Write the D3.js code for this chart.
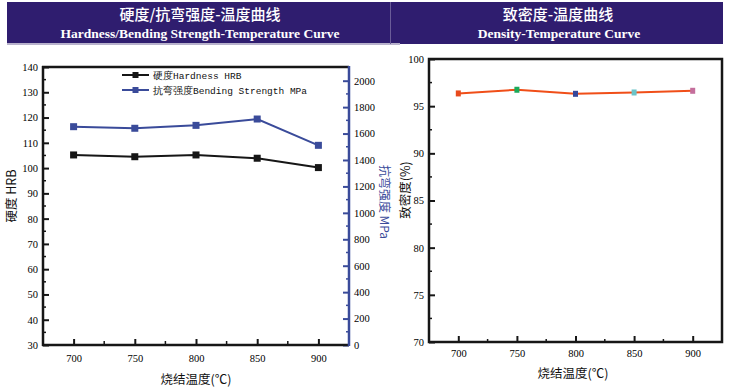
<!DOCTYPE html>
<html><head><meta charset="utf-8">
<script src="https://cdn.jsdelivr.net/npm/d3@7/dist/d3.min.js"></script>
<style>
html,body{margin:0;padding:0;background:#fff;}
svg{display:block;}
.tk text{font-family:"Liberation Serif",serif;font-size:10.5px;}
</style></head>
<body><svg id="c" width="730" height="392"></svg>
<script>
const temps = [700, 750, 800, 850, 900];
const hardness = [105.2, 104.5, 105.2, 103.9, 100.2];
const bending = [1652, 1640, 1662, 1710, 1511];
const density = [96.35, 96.74, 96.31, 96.45, 96.63];
const densityColors = ["#e84a1c", "#1caa5a", "#36479a", "#6cc4c8", "#c46e9c"];
const leftTicks = [30, 40, 50, 60, 70, 80, 90, 100, 110, 120, 130, 140];
const rightTicks = [0, 200, 400, 600, 800, 1000, 1200, 1400, 1600, 1800, 2000];
const densTicks = [70, 75, 80, 85, 90, 95, 100];
const legendLabels = ["硬度Hardness HRB", "抗弯强度Bending Strength MPa"];

const svg = d3.select("#c");
const banner = "#2f1d6f";
const blue = "#3a4b9a";
const black = "#161616";

// banners
svg.append("rect").attr("x", 7).attr("y", 2).attr("width", 716).attr("height", 42).attr("fill", banner);
svg.append("rect").attr("x", 7).attr("y", 43).attr("width", 393).attr("height", 2).attr("fill", "#b8b2cc");
svg.append("line").attr("x1", 390.5).attr("x2", 390.5).attr("y1", 2).attr("y2", 44).attr("stroke", "#6a5c98").attr("stroke-width", 1);
const t1 = svg.append("g").attr("fill", "#fff").attr("text-anchor", "middle");
t1.append("text").attr("x", 200).attr("y", 20).attr("font-family", "Noto Sans CJK SC").attr("font-size", 15).attr("font-weight", 500).text("硬度/抗弯强度-温度曲线");
t1.append("text").attr("x", 200).attr("y", 38).attr("font-family", "Liberation Serif").attr("font-size", 13.5).attr("font-weight", "bold").text("Hardness/Bending Strength-Temperature Curve");
t1.append("text").attr("x", 558).attr("y", 20).attr("font-family", "Noto Sans CJK SC").attr("font-size", 15).attr("font-weight", 500).text("致密度-温度曲线");
t1.append("text").attr("x", 559).attr("y", 38).attr("font-family", "Liberation Serif").attr("font-size", 13.5).attr("font-weight", "bold").text("Density-Temperature Curve");

// ---------- Left chart ----------
const x = d3.scaleLinear().domain([675, 925]).range([43, 349]);
const yL = d3.scaleLinear().domain([30, 140]).range([345, 67]);
const yR = d3.scaleLinear().domain([0, 2000]).range([345, 80.7]);

function styleAxis(g, color) {
  g.attr("class", "tk");
  g.select(".domain").remove();
  g.selectAll(".tick line").attr("stroke", color).attr("stroke-width", 2);
  g.selectAll(".tick text").attr("fill", "#000");
}

// minor ticks
const minorX = [725, 775, 825, 875];
svg.append("g").selectAll("line").data(minorX).join("line")
  .attr("x1", d => x(d)).attr("x2", d => x(d)).attr("y1", 345).attr("y2", 341)
  .attr("stroke", black).attr("stroke-width", 1.5);
svg.append("g").selectAll("line").data(d3.range(35, 140, 10)).join("line")
  .attr("x1", 43).attr("x2", 46).attr("y1", d => yL(d)).attr("y2", d => yL(d))
  .attr("stroke", black).attr("stroke-width", 1.5);
svg.append("g").selectAll("line").data(d3.range(100, 2100, 200)).join("line")
  .attr("x1", 349).attr("x2", 346).attr("y1", d => yR(d)).attr("y2", d => yR(d))
  .attr("stroke", blue).attr("stroke-width", 1.5);

const gx = svg.append("g").attr("transform", "translate(0,345)")
  .call(d3.axisBottom(x).tickValues(temps).tickSize(-6).tickPadding(10).tickFormat(d3.format("d")));
styleAxis(gx, black);
const gyl = svg.append("g").attr("transform", "translate(43,0)")
  .call(d3.axisLeft(yL).tickValues(leftTicks).tickSize(-6).tickPadding(5).tickFormat(d3.format("d")));
styleAxis(gyl, black);
const gyr = svg.append("g").attr("transform", "translate(349,0)")
  .call(d3.axisRight(yR).tickValues(rightTicks).tickSize(-6).tickPadding(5).tickFormat(d3.format("d")));
styleAxis(gyr, blue);

// frame
svg.append("line").attr("x1", 42).attr("x2", 349).attr("y1", 67).attr("y2", 67).attr("stroke", black).attr("stroke-width", 2.5);
svg.append("line").attr("x1", 43).attr("x2", 43).attr("y1", 66).attr("y2", 346).attr("stroke", black).attr("stroke-width", 2.5);
svg.append("line").attr("x1", 42).attr("x2", 349).attr("y1", 345).attr("y2", 345).attr("stroke", black).attr("stroke-width", 2.5);
svg.append("line").attr("x1", 349).attr("x2", 349).attr("y1", 66).attr("y2", 346).attr("stroke", blue).attr("stroke-width", 2.5);

// series
const hData = temps.map((t, i) => [t, hardness[i]]);
const bData = temps.map((t, i) => [t, bending[i]]);
svg.append("path").datum(hData).attr("fill", "none").attr("stroke", black).attr("stroke-width", 2)
  .attr("d", d3.line().x(d => x(d[0])).y(d => yL(d[1])));
svg.append("g").selectAll("rect").data(hData).join("rect")
  .attr("x", d => x(d[0]) - 3.5).attr("y", d => yL(d[1]) - 3.5).attr("width", 7).attr("height", 7).attr("fill", black);
svg.append("path").datum(bData).attr("fill", "none").attr("stroke", blue).attr("stroke-width", 2)
  .attr("d", d3.line().x(d => x(d[0])).y(d => yR(d[1])));
svg.append("g").selectAll("rect").data(bData).join("rect")
  .attr("x", d => x(d[0]) - 3.5).attr("y", d => yR(d[1]) - 3.5).attr("width", 7).attr("height", 7).attr("fill", blue);

// legend
const lg = svg.append("g");
[[black, 75], [blue, 90]].forEach((c, i) => {
  lg.append("line").attr("x1", 122).attr("x2", 149).attr("y1", c[1]).attr("y2", c[1]).attr("stroke", c[0]).attr("stroke-width", 2);
  lg.append("rect").attr("x", 132.5).attr("y", c[1] - 3).attr("width", 6).attr("height", 6).attr("fill", c[0]);
  lg.append("text").attr("x", 153).attr("y", c[1] + 4).attr("font-family", "Liberation Mono, monospace").attr("font-size", 9.5).attr("fill", "#111").text(legendLabels[i]);
});

// axis titles
svg.append("text").attr("transform", "translate(16,196) rotate(-90)").attr("text-anchor", "middle")
  .attr("font-family", "Noto Sans CJK SC").attr("font-size", 12.5).attr("fill", "#111").text("硬度 HRB");
svg.append("text").attr("transform", "translate(380,202) rotate(90)").attr("text-anchor", "middle")
  .attr("font-family", "Noto Sans CJK SC").attr("font-size", 12).attr("fill", blue).text("抗弯强度 MPa");
svg.append("text").attr("x", 196).attr("y", 384).attr("text-anchor", "middle")
  .attr("font-family", "Noto Sans CJK SC").attr("font-size", 12.5).attr("fill", "#111").text("烧结温度(℃)");

// ---------- Right chart ----------
const x2 = d3.scaleLinear().domain([675, 925]).range([429, 722]);
const y2 = d3.scaleLinear().domain([70, 100]).range([342, 59]);

svg.append("g").selectAll("line").data(minorX).join("line")
  .attr("x1", d => x2(d)).attr("x2", d => x2(d)).attr("y1", 342).attr("y2", 339)
  .attr("stroke", black).attr("stroke-width", 1.5);
svg.append("g").selectAll("line").data([72.5, 77.5, 82.5, 87.5, 92.5, 97.5]).join("line")
  .attr("x1", 429).attr("x2", 432).attr("y1", d => y2(d)).attr("y2", d => y2(d))
  .attr("stroke", black).attr("stroke-width", 1.5);
const gx2 = svg.append("g").attr("transform", "translate(0,342)")
  .call(d3.axisBottom(x2).tickValues(temps).tickSize(-6).tickPadding(8).tickFormat(d3.format("d")));
styleAxis(gx2, black);
const gy2 = svg.append("g").attr("transform", "translate(429,0)")
  .call(d3.axisLeft(y2).tickValues(densTicks).tickSize(-6).tickPadding(5).tickFormat(d3.format("d")));
styleAxis(gy2, black);

svg.append("rect").attr("x", 429).attr("y", 59).attr("width", 293).attr("height", 283)
  .attr("fill", "none").attr("stroke", black).attr("stroke-width", 2.5);

const dData = temps.map((t, i) => [t, density[i], densityColors[i]]);
svg.append("path").datum(dData).attr("fill", "none").attr("stroke", "#f04e18").attr("stroke-width", 2)
  .attr("d", d3.line().x(d => x2(d[0])).y(d => y2(d[1])));
svg.append("g").selectAll("rect").data(dData).join("rect")
  .attr("x", d => x2(d[0]) - 2.5).attr("y", d => y2(d[1]) - 3).attr("width", 5).attr("height", 6).attr("fill", d => d[2]);

svg.append("text").attr("transform", "translate(410,190) rotate(-90)").attr("text-anchor", "middle")
  .attr("font-family", "Noto Sans CJK SC").attr("font-size", 12.5).attr("fill", "#111").text("致密度(%)");
svg.append("text").attr("x", 573).attr("y", 378).attr("text-anchor", "middle")
  .attr("font-family", "Noto Sans CJK SC").attr("font-size", 12.5).attr("fill", "#111").text("烧结温度(℃)");
</script></body></html>
